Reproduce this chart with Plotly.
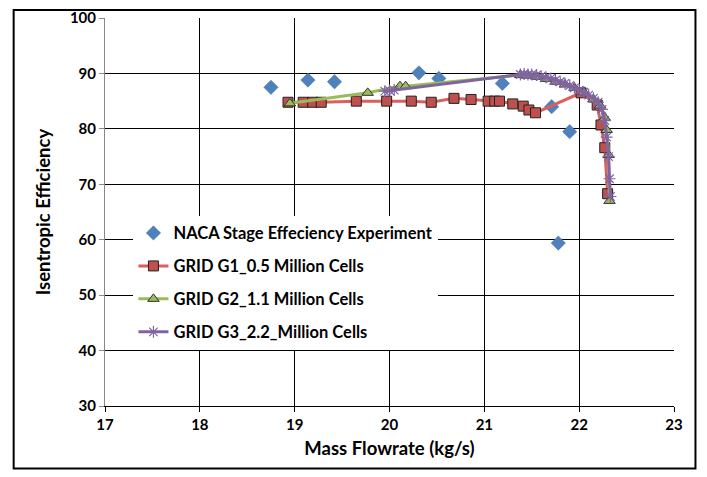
import plotly.graph_objects as go

# ---------------- data ----------------
naca_x = [18.75, 19.14, 19.42, 20.31, 20.52, 21.19, 21.71, 21.90, 21.78]
naca_y = [87.5, 88.8, 88.5, 90.1, 89.1, 88.2, 84.0, 79.5, 59.4]

g1_x = [18.93, 19.09, 19.19, 19.28, 19.65, 19.97, 20.23, 20.44, 20.68, 20.86,
        21.04, 21.11, 21.16, 21.30, 21.41, 21.47, 21.54, 22.02, 22.19, 22.23,
        22.27, 22.30]
g1_y = [84.8, 84.8, 84.8, 84.8, 85.0, 85.0, 85.0, 84.8, 85.5, 85.3,
        85.0, 85.0, 85.0, 84.5, 84.1, 83.4, 82.9, 86.5, 84.3, 80.7,
        76.6, 68.3]

g2_x = [18.95, 19.77, 20.11, 20.17, 21.38, 21.45, 21.55, 21.65, 21.75, 21.85,
        21.95, 22.05, 22.15, 22.22, 22.27, 22.29, 22.31, 22.32]
g2_y = [84.6, 86.5, 87.7, 87.7, 89.7, 89.6, 89.4, 89.0, 88.5, 88.0,
        87.4, 86.6, 85.3, 84.2, 82.0, 79.8, 75.3, 67.0]

g3_x = [19.95, 20.00, 20.05, 21.38, 21.42, 21.46, 21.50, 21.55, 21.60, 21.65,
        21.70, 21.75, 21.80, 21.85, 21.90, 21.95, 22.00, 22.05, 22.10, 22.15,
        22.20, 22.24, 22.27, 22.29, 22.31, 22.32, 22.33]
g3_y = [86.8, 86.9, 87.0, 89.8, 89.9, 89.8, 89.8, 89.7, 89.5, 89.3,
        89.1, 88.8, 88.5, 88.2, 87.8, 87.4, 87.0, 86.6, 86.1, 85.5,
        84.8, 83.5, 81.5, 78.5, 75.0, 71.0, 67.8]

names = ["NACA Stage Effeciency Experiment",
         "GRID G1_0.5 Million Cells",
         "GRID G2_1.1 Million Cells",
         "GRID G3_2.2_Million Cells"]

x_ticks = [17, 18, 19, 20, 21, 22, 23]
y_ticks = [30, 40, 50, 60, 70, 80, 90, 100]

FONT = "Lato"

fig = go.Figure()
fig.add_trace(go.Scatter(
    x=naca_x, y=naca_y, mode="markers", name=names[0], legendgroup="a",
    marker=dict(symbol="diamond", size=11, color="#4F81BD",
                line=dict(color="#3A6AA5", width=0.5))))
fig.add_trace(go.Scatter(
    x=g1_x, y=g1_y, mode="lines+markers", name=names[1], legendgroup="b",
    line=dict(color="#D9605C", width=3),
    marker=dict(symbol="square", size=10, color="#C0504D",
                line=dict(color="#222222", width=1))))
fig.add_trace(go.Scatter(
    x=g2_x, y=g2_y, mode="lines+markers", name=names[2], legendgroup="c",
    line=dict(color="#9BBB59", width=3),
    marker=dict(symbol="triangle-up", size=10, color="#9BBB59",
                line=dict(color="#333333", width=1))))
fig.add_trace(go.Scatter(
    x=g3_x, y=g3_y, mode="lines+markers", name=names[3], legendgroup="d",
    line=dict(color="#8064A2", width=3),
    marker=dict(symbol="asterisk-open", size=10, color="#8064A2",
                line=dict(color="#8064A2", width=1.2))))

L, R, T, B = 104.5, 674.5, 18.0, 406.5
W, H = 707, 477
pw, ph = R - L, B - T

fig.update_layout(
    width=W, height=H,
    margin=dict(l=L, r=W - R, t=T, b=H - B, autoexpand=False),
    paper_bgcolor="white", plot_bgcolor="white",
    font=dict(family=FONT, color="#000000", size=13),
    showlegend=True,
    legend=dict(x=(133 - L) / pw, y=(B - 216) / ph, xanchor="left", yanchor="top",
                bgcolor="white", borderwidth=0, tracegroupgap=8.5,
                traceorder="grouped",
                font=dict(family=FONT, size=16.5, color="#000000", weight="bold")),
    xaxis=dict(range=[17, 23], tickvals=x_ticks, ticktext=[str(v) for v in x_ticks],
               showgrid=True, gridcolor="#000000", gridwidth=1,
               showline=True, linecolor="#000000", linewidth=1,
               ticks="outside", ticklen=5, tickcolor="#000000",
               tickfont=dict(family=FONT, size=15, weight="bold"),
               zeroline=False,
               title=dict(text="Mass Flowrate (kg/s)", standoff=10,
                          font=dict(family=FONT, size=18.5, weight="bold"))),
    yaxis=dict(range=[30, 100], tickvals=y_ticks, ticktext=[str(v) for v in y_ticks],
               showgrid=True, gridcolor="#000000", gridwidth=1,
               showline=True, linecolor="#888888", linewidth=1,
               ticks="outside", ticklen=5, tickcolor="#888888",
               tickfont=dict(family=FONT, size=15, weight="bold"),
               zeroline=False,
               title=dict(text="Isentropic Efficiency", standoff=14,
                          font=dict(family=FONT, size=18.5, weight="bold"))),
    shapes=[dict(type="rect", xref="paper", yref="paper",
                 x0=(13 - L) / pw, x1=(696 - L) / pw,
                 y0=(B - 469) / ph, y1=(B - 10) / ph,
                 line=dict(color="#000000", width=2), fillcolor="rgba(0,0,0,0)",
                 layer="above")],
)

fig.write_html("out.html")
